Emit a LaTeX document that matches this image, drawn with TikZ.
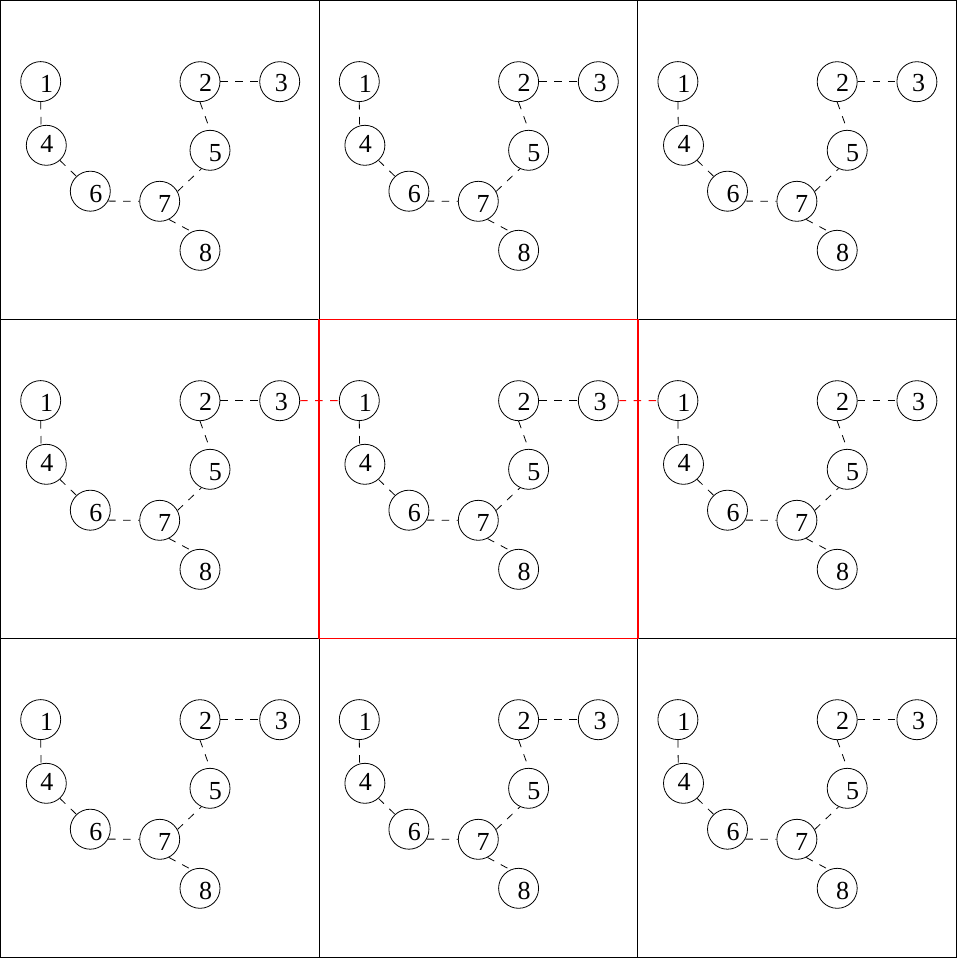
\documentclass[tikz,border=0pt]{standalone}
\usepackage{fontspec}
\setmainfont{Liberation Serif}
\begin{document}
\begin{tikzpicture}[x=1pt,y=-1pt,
  vtx/.style={circle,draw,line width=0.8pt,minimum size=40pt,inner sep=0pt},
  lbl/.style={inner sep=0pt,font=\fontsize{26}{30}\selectfont},
  edg/.style={line width=0.8pt,dash pattern=on 7.5pt off 7.5pt},
  redg/.style={draw=red,line width=0.9pt,dash pattern=on 7.5pt off 7.5pt},
  gridline/.style={line width=0.9pt,black},
  hilite/.style={red,line width=1.8pt}]
\useasboundingbox (0,0) rectangle (957,960);
% grid
\draw[gridline] (0.5,0.5) rectangle (956.3,957.5);
\foreach \i in {1,2}{
  \draw[gridline] (0.5+\i*318.6,0.5) -- (0.5+\i*318.6,957.5);
  \draw[gridline] (0.5,0.5+\i*319) -- (956.3,0.5+\i*319);
}
\draw[hilite] (319.1,319.5) rectangle (637.7,638.5);
% graphs
\foreach \r in {0,1,2}{
  \foreach \c in {0,1,2}{
    \begin{scope}[shift={(\c*318.6,\r*319)}]
      \foreach \k/\px/\py/\dx/\dy in {1/40.7/81.6/6/2,2/200/81.7/5.5/1.2,3/279.7/81.7/1.7/1.2,4/46.3/145.3/0.5/-1,5/210/150.3/5.3/2.5,6/90.3/191.2/5.5/2.5,7/159.7/201.3/4.8/2.5,8/200/250.3/5.5/2.5}{
        \node[vtx,label={[lbl,xshift=\dx pt,yshift=-\dy pt]center:\k}] (n\r\c\k) at (\px,\py) {};
      }
      \foreach \a/\aa/\b/\bb in {1/270/4/105,4/-48/6/133,6/-29/7/180,7/29/5/-115,2/270/5/90,2/0/3/180,7/-63/8/114}{
        \draw[edg] (n\r\c\a.\aa) -- (n\r\c\b.\bb);
      }
    \end{scope}
  }
}
\draw[redg] (n103.east) -- (n111.west);
\draw[redg] (n113.east) -- (n121.west);
\end{tikzpicture}
\end{document}
